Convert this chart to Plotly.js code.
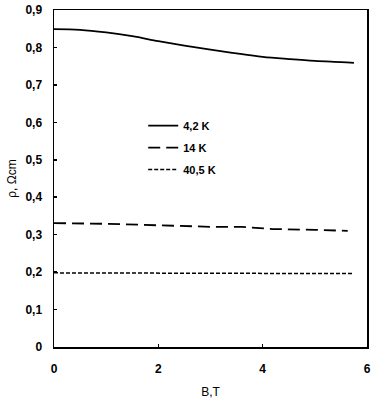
<!DOCTYPE html>
<html>
<head>
<meta charset="utf-8">
<script src="https://cdn.plot.ly/plotly-3.0.1.min.js"></script>
<style>
  html, body { margin: 0; padding: 0; background: #fff; }
  #chart { width: 381px; height: 400px; }
</style>
</head>
<body>
<div id="chart"></div>
<script>
// magnetic field B, T
const b42 = [0, 0.5, 1, 1.5, 2, 2.5, 3, 3.5, 4, 4.5, 5, 5.5, 5.75];
const rho42 = [0.849, 0.847, 0.840, 0.830, 0.817, 0.805, 0.794, 0.784, 0.775, 0.769, 0.764, 0.761, 0.759];

const b14 = [0, 0.8, 1, 2, 3, 3.6, 4.2, 5, 5.63];
const rho14 = [0.331, 0.331, 0.329, 0.325, 0.321, 0.321, 0.315, 0.313, 0.310];

const b405 = [0, 1, 2, 3, 4, 4.2, 5, 5.73];
const rho405 = [0.198, 0.198, 0.198, 0.198, 0.198, 0.196, 0.196, 0.196];

const seriesNames = ['4,2 K', '14 K', '40,5 K'];

const font = 'Liberation Sans, Arial, sans-serif';

const traces = [
    {x: b42, y: rho42, name: seriesNames[0], legendgroup: 'a', mode: 'lines',
     line: {color: '#000', width: 1.8, dash: 'solid', shape: 'spline'}},
    {x: b14, y: rho14, name: seriesNames[1], legendgroup: 'b', mode: 'lines',
     line: {color: '#000', width: 1.8, dash: '12px,6px'}},
    {x: b405, y: rho405, name: seriesNames[2], legendgroup: 'c', mode: 'lines',
     line: {color: '#000', width: 1.5, dash: '4px,2px'}},
];

const axisCommon = {
    showgrid: false,
    zeroline: false,
    showline: true,
    linecolor: '#000',
    linewidth: 1.5,
    mirror: true,
    ticks: 'inside',
    ticklen: 3,
    tickwidth: 1.5,
    tickcolor: '#000',
    tickfont: {family: font, size: 12, color: '#000', weight: 'bold'},
    fixedrange: true,
};

const layout = {
    width: 381,
    height: 400,
    margin: {l: 54, r: 14, t: 10, b: 53},
    paper_bgcolor: '#fff',
    plot_bgcolor: '#fff',
    separators: ', ',
    showlegend: true,
    legend: {
        x: 0.285, y: 0.7, xanchor: 'left', yanchor: 'top',
        bgcolor: 'rgba(0,0,0,0)',
        font: {family: font, size: 11, color: '#000', weight: 'bold'},
        itemwidth: 30,
        tracegroupgap: 3,
    },
    xaxis: Object.assign({}, axisCommon, {
        range: [0, 6],
        dtick: 2,
        ticklabelstandoff: 10,
        title: {text: 'B,T', font: {family: font, size: 12, color: '#000'}, standoff: 12},
    }),
    yaxis: Object.assign({}, axisCommon, {
        range: [0, 0.9],
        dtick: 0.1,
        ticklabelstandoff: 8,
        title: {text: 'ρ, Ωcm', font: {family: font, size: 12, color: '#000'}, standoff: 6},
    }),
};

Plotly.newPlot('chart', traces, layout, {displayModeBar: false, staticPlot: true});
</script>
</body>
</html>
